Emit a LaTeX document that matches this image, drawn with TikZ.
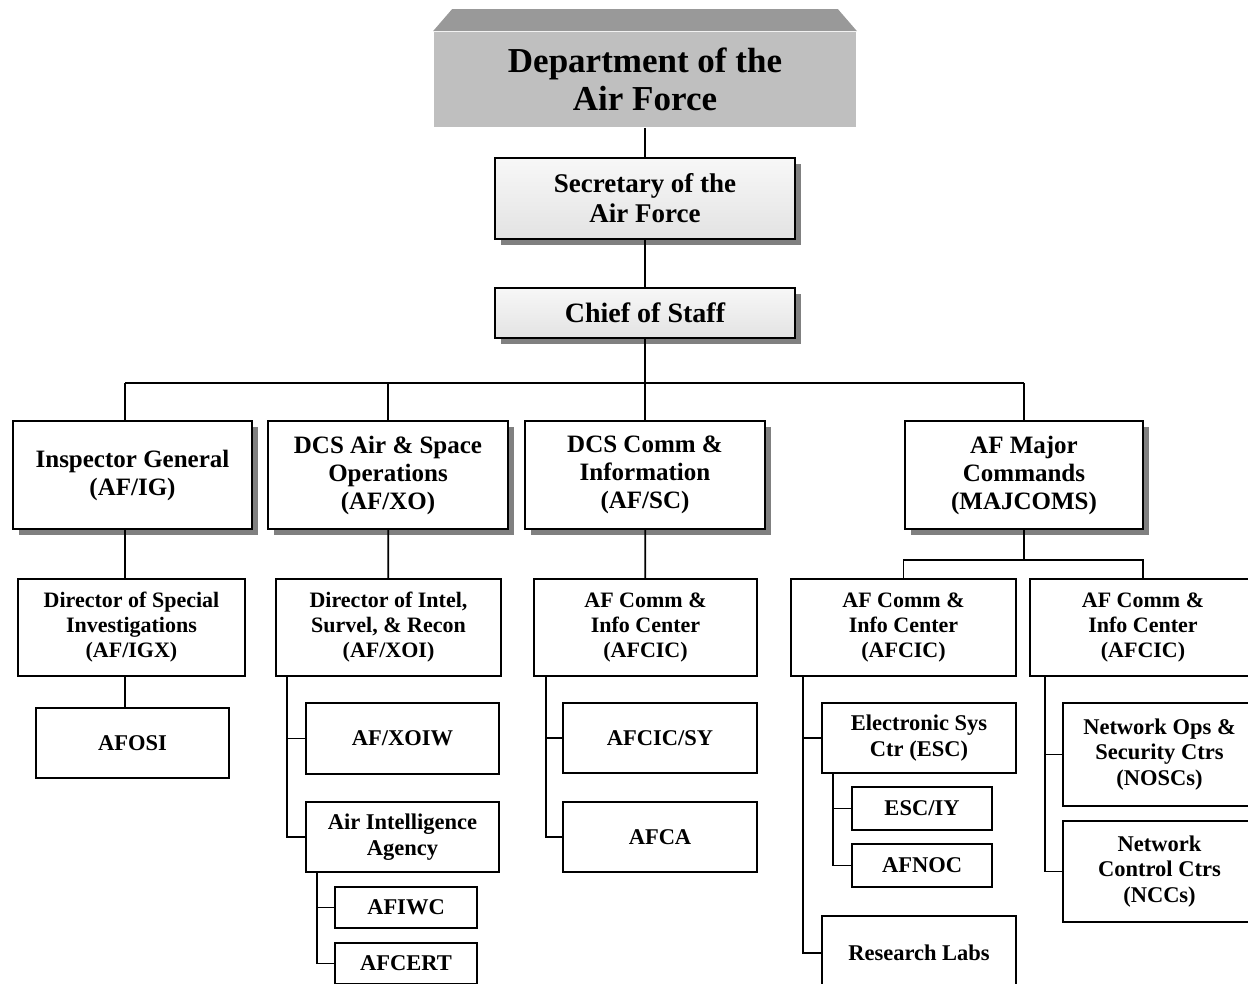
\documentclass[tikz,border=0pt]{standalone}
\usepackage{fontspec}
\setmainfont{Liberation Serif}
\usetikzlibrary{shadows}
\tikzset{
  orgbox/.style={draw,line width=1.8pt,fill=white,align=center,inner sep=0pt},
  shadowed/.style={drop shadow={shadow xshift=6pt,shadow yshift=-6pt,fill=black!50,opacity=1}},
  topbox/.style={orgbox,shadowed,top color=black!3,bottom color=black!11,
    font=\bfseries\fontsize{27}{30}\selectfont},
  lvtwo/.style={orgbox,shadowed,minimum height=108,font=\bfseries\fontsize{25}{28}\selectfont},
  lvthree/.style={orgbox,minimum height=97,font=\bfseries\fontsize{22}{25}\selectfont},
  lvfour/.style={orgbox,font=\bfseries\fontsize{22.5}{25.5}\selectfont},
}
\begin{document}
\begin{tikzpicture}[x=1pt,y=-1pt,line width=1.8pt]
  \useasboundingbox (0,0) rectangle (1248,983);
  \clip (0,0) rectangle (1248,983);
  % head of the chart
  \node[fill=black!25,minimum width=422,minimum height=95,inner sep=0pt,align=center,
    font=\bfseries\fontsize{35}{38}\selectfont] (dept) at (645,79.5) {Department of the\\Air Force};
  \fill[black!40] (dept.north west) -- ++(19,-22) -- ([xshift=-19pt,yshift=22pt]dept.north east)
    -- (dept.north east) -- cycle;
  \node[topbox,minimum width=300,minimum height=81] (sec) at (645,198.5) {Secretary of the\\Air Force};
  \node[topbox,minimum width=300,minimum height=50,font=\bfseries\fontsize{28}{30}\selectfont]
    (chief) at (645,313) {Chief of Staff};
  % second level
  \node[lvtwo,minimum width=239] (ig) at (132.5,475) {Inspector General\\(AF/IG)};
  \node[lvtwo,minimum width=240] (xo) at (388,475) {DCS Air \& Space\\Operations\\(AF/XO)};
  \node[lvtwo,minimum width=240] (sc) at (645,475) {DCS Comm \&\\Information\\(AF/SC)};
  \node[lvtwo,minimum width=238] (maj) at (1024,475) {AF Major\\Commands\\(MAJCOMS)};
  % third level
  \node[lvthree,minimum width=227] (dsi) at (131.5,627.5) {Director of Special\\Investigations\\(AF/IGX)};
  \node[lvthree,minimum width=225] (xoi) at (388.5,627.5) {Director of Intel,\\Survel, \& Recon\\(AF/XOI)};
  \node[lvthree,minimum width=223] (scic) at (645.5,627.5) {AF Comm \&\\Info Center\\(AFCIC)};
  \node[lvthree,minimum width=225] (cica) at (903.5,627.5) {AF Comm \&\\Info Center\\(AFCIC)};
  \node[lvthree,minimum width=226] (cicb) at (1143,627.5) {AF Comm \&\\Info Center\\(AFCIC)};
  % lower units
  \node[lvfour,minimum width=193,minimum height=70] (afosi) at (132.5,743) {AFOSI};
  \node[lvfour,minimum width=193,minimum height=71] (xoiw) at (402.5,738.5) {AF/XOIW};
  \node[lvfour,minimum width=193,minimum height=70] (aia) at (402.5,837) {Air Intelligence\\Agency};
  \node[lvfour,minimum width=142,minimum height=41] (afiwc) at (406,907.5) {AFIWC};
  \node[lvfour,minimum width=142,minimum height=41] (afcert) at (406,963.5) {AFCERT};
  \node[lvfour,minimum width=194,minimum height=70] (cicsy) at (660,738) {AFCIC/SY};
  \node[lvfour,minimum width=194,minimum height=70] (afca) at (660,837) {AFCA};
  \node[lvfour,minimum width=194,minimum height=70] (esc) at (919,738) {Electronic Sys\\Ctr (ESC)};
  \node[lvfour,minimum width=140,minimum height=43] (esciy) at (922,808.5) {ESC/IY};
  \node[lvfour,minimum width=140,minimum height=43] (afnoc) at (922,865.5) {AFNOC};
  \node[lvfour,minimum width=194,minimum height=74] (labs) at (919,953) {Research Labs};
  \node[lvfour,minimum width=193,minimum height=103] (nosc) at (1159.5,754.5) {Network Ops \&\\Security Ctrs\\(NOSCs)};
  \node[lvfour,minimum width=193,minimum height=101] (ncc) at (1159.5,871.5) {Network\\Control Ctrs\\(NCCs)};
  % connectors
  \coordinate (busL) at (125,383);
  \coordinate (busR) at (1024,383);
  \coordinate (mbus) at (1024,560);
  \draw (dept) -- (sec);
  \draw (sec) -- (chief);
  \draw (chief) -- (sc);
  \draw (busL) -- (busR);
  \draw (busL) -- (busL|-ig.north);
  \draw (xo.north) -- (xo.north|-busL);
  \draw (busR) -- (maj.north);
  \draw (busL|-ig.south) -- (busL|-dsi.north);
  \draw (busL|-dsi.south) -- (busL|-afosi.north);
  \draw (xo) -- (xoi);
  \draw (sc) -- (scic);
  \draw (maj.south) -- (mbus);
  \draw (cica) |- (mbus) -| (cicb);
  \draw ([xshift=12pt]xoi.south west) |- (xoiw.west);
  \draw ([xshift=12pt]xoi.south west) |- (aia.west);
  \draw ([xshift=12pt]aia.south west) |- (afiwc.west);
  \draw ([xshift=12pt]aia.south west) |- (afcert.west);
  \draw ([xshift=13pt]scic.south west) |- (cicsy.west);
  \draw ([xshift=13pt]scic.south west) |- (afca.west);
  \draw ([xshift=13pt]cica.south west) |- (esc.west);
  \draw ([xshift=13pt]cica.south west) |- (labs.west);
  \draw ([xshift=12pt]esc.south west) |- (esciy.west);
  \draw ([xshift=12pt]esc.south west) |- (afnoc.west);
  \draw ([xshift=16pt]cicb.south west) |- (nosc.west);
  \draw ([xshift=16pt]cicb.south west) |- (ncc.west);
\end{tikzpicture}
\end{document}
